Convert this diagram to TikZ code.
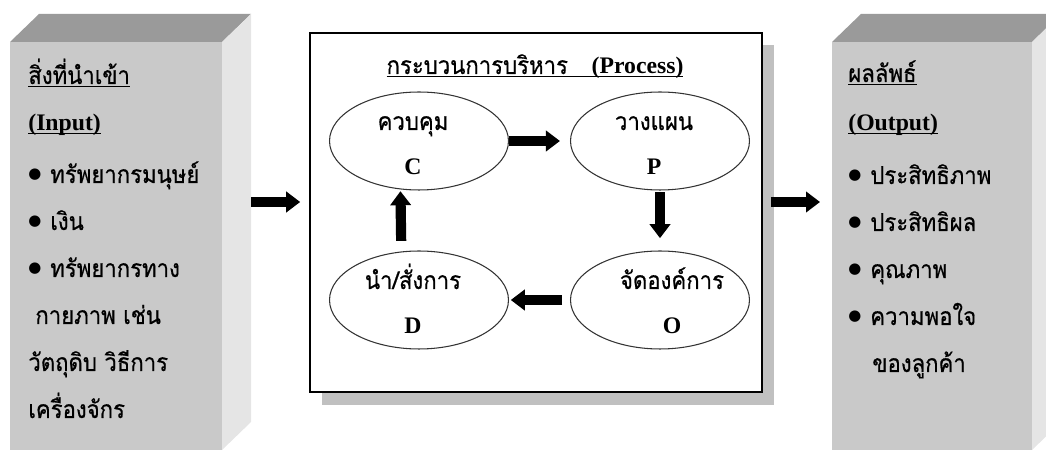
\documentclass[tikz,border=0pt]{standalone}
\usepackage{fontspec}
\setmainfont{Liberation Serif}
\newfontfamily\thaiFont[Script=Thai, FakeStretch=0.9, FakeBold=0.6]{Loma}
\newfontfamily\dotFont{DejaVu Sans}
\usetikzlibrary{shapes.geometric, arrows.meta}
\tikzstyle{sheet} = [x = 0.02cm, y = -0.02cm]
\definecolor{topGray}{RGB}{154,154,154}
\definecolor{frontGray}{RGB}{201,201,201}
\definecolor{sideGray}{RGB}{229,229,229}
\definecolor{shadowGray}{RGB}{192,192,192}
\tikzstyle{topFace} = [fill=topGray]
\tikzstyle{frontFace} = [fill=frontGray]
\tikzstyle{sideFace} = [fill=sideGray]
\tikzstyle{listText} = [anchor=base west, inner sep=0pt, font=\thaiFont\fontsize{14}{16}\selectfont]
\tikzstyle{headText} = [anchor=base west, inner sep=0pt, font=\fontsize{13.5}{16}\selectfont\bfseries]
\tikzstyle{titleText} = [anchor=base, inner sep=0pt, font=\fontsize{13.5}{16}\selectfont]
\tikzstyle{processFrame} = [draw=black, line width=1.2pt, fill=white, minimum width=9.04cm, minimum height=7.18cm]
\tikzstyle{boxShadow} = [fill=shadowGray]
\tikzstyle{stepEllipse} = [ellipse, draw=black!80, line width=0.6pt, minimum width=3.58cm, minimum height=1.96cm, inner sep=0pt]
\tikzstyle{stepWord} = [anchor=base, inner sep=0pt, font=\thaiFont\fontsize{14}{16}\selectfont]
\tikzstyle{stepLetter} = [anchor=base, inner sep=0pt, font=\fontsize{13.5}{16}\selectfont\bfseries]
\tikzstyle{thickArrow} = [line width=5.8pt, -{Triangle[length=8pt, width=11.5pt]}]
\newcommand{\thaiBullet}{\makebox[12.5pt][l]{\raisebox{2.6pt}{\dotFont\fontsize{8.5}{8}\selectfont ●}}}
\newcommand{\underBar}[1]{\underline{\smash{#1}}}
\newcommand{\solidBox}[4]{
  \fill [topFace] (#1,#2) -- (#1+29,#2-28) -- (#3+29,#2-28) -- (#3,#2) -- cycle;
  \fill [sideFace] (#3,#2) -- (#3+29,#2-28) -- (#3+29,#4-28) -- (#3,#4) -- cycle;
  \fill [frontFace] (#1,#2) rectangle (#3,#4);
}
\newcommand{\listItem}[4]{\node [listText] (#1) at (#2,#3) {\thaiBullet#4};}
\newcommand{\processStep}[6]{
  \node [stepEllipse] (#1Step) at (#2,#3) {};
  \node [stepWord] (#1Word) at (#4,#3-11) {#5};
  \node [stepLetter] (#1Letter) at (#4,#3+34) {#6};
}

\begin{document}
\begin{tikzpicture}[sheet]
  \useasboundingbox (0,0) rectangle (1046,455);
  \solidBox{10}{42}{222}{450}
  \solidBox{832}{42}{1032}{450}
  \coordinate (inputSide) at (251,202);
  \coordinate (outputSide) at (832,202);

  \node [listText] (inputThai) at (28,84) {\underBar{สิ่งที่นำเข้า}};
  \node [headText] (inputHead) at (28,131) {\underBar{(Input)}};
  \listItem{inputA}{28}{183}{ทรัพยากรมนุษย์}
  \listItem{inputB}{28}{230}{เงิน}
  \listItem{inputC}{28}{277}{ทรัพยากรทาง}
  \node [listText] (inputD) at (35,324) {กายภาพ เช่น};
  \node [listText] (inputE) at (28,371) {วัตถุดิบ วิธีการ};
  \node [listText] (inputF) at (28,418) {เครื่องจักร};

  \node [listText] (outputThai) at (848,82) {\underBar{ผลลัพธ์}};
  \node [headText] (outputHead) at (848,131) {\underBar{(Output)}};
  \listItem{outputA}{848}{184}{ประสิทธิภาพ}
  \listItem{outputB}{848}{231}{ประสิทธิผล}
  \listItem{outputC}{848}{278}{คุณภาพ}
  \listItem{outputD}{848}{325}{ความพอใจ}
  \node [listText] (outputE) at (872,372) {ของลูกค้า};

  \fill [boxShadow] (322,45) rectangle (774,405);
  \node [processFrame] (processBox) at (536,212.5) {};
  \node [titleText] (processTitle) at (535,74) {\underBar{{\thaiFont\fontsize{14}{16}\selectfont กระบวนการบริหาร}\quad\textbf{(Process)}}};

  \processStep{c}{419}{141}{413}{ควบคุม}{C}
  \processStep{p}{660}{141}{654}{วางแผน}{P}
  \processStep{d}{419}{300}{413}{นำ/สั่งการ}{D}
  \processStep{o}{660}{300}{672}{จัดองค์การ}{O}

  \draw [thickArrow, shorten >=5.7pt] (cStep) -- (pStep);
  \draw [thickArrow, shorten <=1pt, shorten >=7pt] (pStep) -- (oStep);
  \draw [thickArrow, shorten <=4.5pt, shorten >=1pt] (oStep) -- (dStep);
  \draw [thickArrow, shorten <=6pt, shorten >=1pt] (dStep.110.6) -- (cStep.249.4);

  \draw [thickArrow, shorten >=5pt] (inputSide) -- (inputSide -| processBox.west);
  \draw [thickArrow, shorten <=4.5pt, shorten >=6.8pt] (processBox.east |- outputSide) -- (outputSide);
\end{tikzpicture}
\end{document}
